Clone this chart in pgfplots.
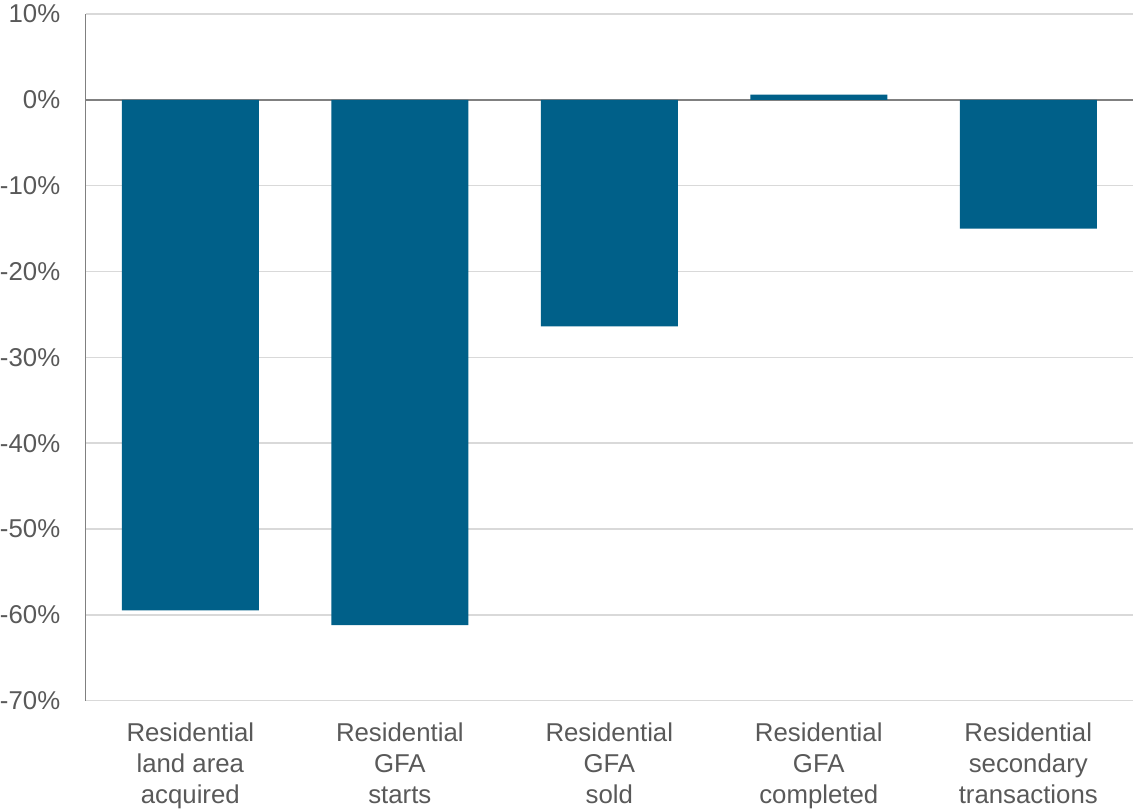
\documentclass[border=0pt]{standalone}
\usepackage{pgfplots}
\pgfplotsset{compat=1.18}
\usepackage{fontspec}
\setmainfont{Liberation Sans}
\definecolor{barblue}{RGB}{0,96,137}
\definecolor{txtgray}{RGB}{89,89,89}
\definecolor{gridgray}{RGB}{217,217,217}
\definecolor{axgray}{RGB}{128,128,128}
\begin{document}
\begin{tikzpicture}
\begin{axis}[
  scale only axis,
  width=524pt, height=343.5pt,
  xmin=-0.5, xmax=4.5,
  ymin=-70, ymax=10,
  ytick={-70,-60,-50,-40,-30,-20,-10,0,10},
  yticklabel={\pgfmathprintnumber{\tick}\%},
  xtick={0,1,2,3,4},
  xticklabels={Residential\\land area\\acquired, Residential\\GFA\\starts, Residential\\GFA\\sold, Residential\\GFA\\completed, Residential\\secondary\\transactions},
  major tick length=0pt,
  tick style={draw=none},
  ymajorgrids,
  grid style={gridgray, line width=0.75pt},
  extra y ticks={0},
  extra y tick labels={},
  extra y tick style={grid style={axgray, line width=1pt}},
  axis line style={draw=none},
  every tick label/.append style={text=txtgray},
  tick label style={font=\fontsize{12.9}{15.5}\selectfont},
  xticklabel style={align=center, anchor=north, inner sep=0pt, yshift=-11pt},
  yticklabel style={anchor=east, inner sep=0pt, xshift=-12.5pt},
  /pgf/number format/assume math mode=true,
  ybar, bar width=0.654,
  clip=false,
]
\addplot[fill=barblue, draw=none] coordinates {(0,-59.5) (1,-61.2) (2,-26.4) (3,0.6) (4,-15.0)};
\draw[axgray, line width=0.75pt] (axis cs:-0.5,-70) -- (axis cs:-0.5,10);
\end{axis}
\path (current axis.north west) -- ([yshift=7pt]current axis.north west);
\end{tikzpicture}
\end{document}
